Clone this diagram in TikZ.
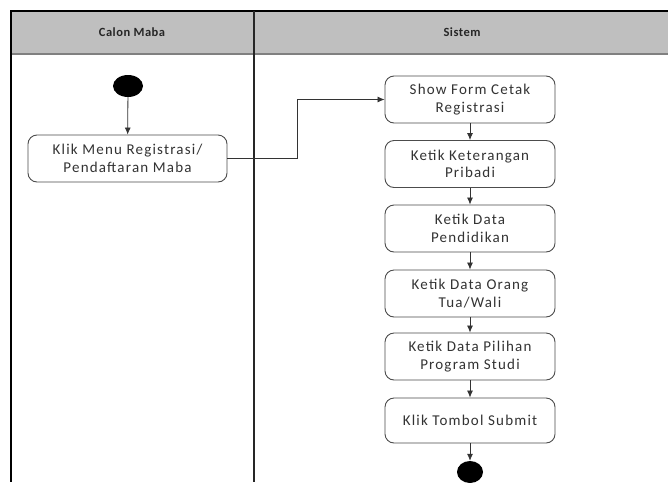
\documentclass[tikz,border=0pt]{standalone}
\usepackage{fontspec}
\setmainfont{Carlito}
\newfontfamily\boxfont[LetterSpace=8]{Carlito}
\newfontfamily\hdrfont[LetterSpace=4]{Carlito}
\usetikzlibrary{arrows.meta,shapes.geometric}
\begin{document}
\begin{tikzpicture}[x=1pt,y=-1pt,
  actbox/.style={draw=black!70,line width=0.9pt,rounded corners=9pt,fill=white,
    minimum width=170pt,minimum height=47pt,align=center,inner sep=2pt,
    font=\boxfont\fontsize{15}{17.5}\selectfont,text=black!80},
  hdr/.style={font=\hdrfont\bfseries\fontsize{12.5}{15}\selectfont,text=black!85},
  flow/.style={draw=black!80,line width=0.8pt,-{Latex[length=7pt,width=6pt]}},
  dot/.style={ellipse,fill=black,inner sep=0pt}]
\useasboundingbox (0,0) rectangle (668,482);
\fill[white] (0,0) rectangle (668,482);
% header band
\fill[black!25] (11,11) rectangle (668,54);
\draw[black!50,line width=1.6pt] (11,54) -- (668,54);
\draw[black,line width=2pt] (11,11) -- (668,11);
\draw[black,line width=2pt] (11,10) -- (11,482);
\draw[black!85,line width=1.2pt] (254,11) -- (254,482);
\node[hdr] (h1) at (132,32) {Calon Maba};
\node[hdr] (h2) at (462,32) {Sistem};
% start
\node[dot,minimum width=30pt,minimum height=22pt] (start) at (128,86) {};
\node[actbox,minimum width=199pt] (k1) at (127.5,158.5) {Klik Menu Registrasi/\\Pendaftaran Maba};
% system column
\node[actbox] (s1) at (470,99.5) {Show Form Cetak\\Registrasi};
\node[actbox] (s2) at (470,164) {Ketik Keterangan\\Pribadi};
\node[actbox] (s3) at (470,228.5) {Ketik Data\\Pendidikan};
\node[actbox] (s4) at (470,293.5) {Ketik Data Orang\\Tua/Wali};
\node[actbox] (s5) at (470,356.5) {Ketik Data Pilihan\\Program Studi};
\node[actbox,minimum height=45pt] (s6) at (470,420.5) {Klik Tombol Submit};
\node[dot,minimum width=26pt,minimum height=22pt] (end) at (470,472) {};
% connectors
\draw[flow] (start) -- (k1);
\coordinate (c1) at (297,158.5);
\coordinate (c2) at (297,99.5);
\draw[flow] (k1.east) -- (c1) -- (c2) -- (s1.west);
\draw[flow] (s1) -- (s2);
\draw[flow] (s2) -- (s3);
\draw[flow] (s3) -- (s4);
\draw[flow] (s4) -- (s5);
\draw[flow] (s5) -- (s6);
\draw[flow] (s6) -- (end);
\end{tikzpicture}
\end{document}
